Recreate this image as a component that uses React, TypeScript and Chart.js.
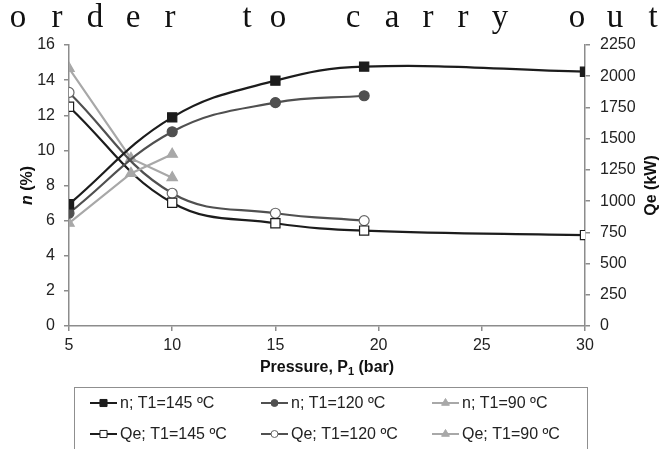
import React, { useEffect, useRef } from 'react';
import { Chart, registerables } from 'chart.js';
import { drawPoint } from 'chart.js/helpers';

Chart.register(...registerables);

// ---- data ----
const pressure145 = [5, 10, 15, 19.3, 30];
const pressure120 = [5, 10, 15, 19.3];
const pressure90 = [5, 8, 10];
const n145 = [6.93, 11.88, 13.97, 14.77, 14.48];
const n120 = [6.42, 11.06, 12.72, 13.11];
const n90 = [5.85, 8.69, 9.78];
const qe145 = [1756, 987, 823, 764, 728];
const qe120 = [1870, 1063, 903, 844];
const qe90 = [2063, 1342, 1188];
const seriesLabels = [
  'n; T1=145 ºC',
  'n; T1=120 ºC',
  'n; T1=90 ºC',
  'Qe; T1=145 ºC',
  'Qe; T1=120 ºC',
  'Qe; T1=90 ºC',
];
const headerWords = ['order', 'to', 'carry', 'out'];

const zip = (xs: number[], ys: number[]) => xs.map((x, i) => ({ x, y: ys[i] }));

const FONT = '"Liberation Sans", Arial, Helvetica, sans-serif';
const BLACK = '#1c1c1c';
const MID = '#505050';
const LIGHT = '#a8a8a8';
const AXIS = '#8c8c8c';

const overlayPlugin = {
  id: 'overlay',
  afterDraw(chart: any) {
    const ctx = chart.ctx as CanvasRenderingContext2D;
    const area = chart.chartArea;
    ctx.save();
    // legend box
    ctx.strokeStyle = '#8f8f8f';
    ctx.lineWidth = 1;
    ctx.strokeRect(74.5, 387.5, 513, 80);
    const cols = [90, 261, 432];
    const rows = [403, 434];
    chart.data.datasets.forEach((ds: any, i: number) => {
      const x = cols[i % 3];
      const y = rows[Math.floor(i / 3)];
      ctx.strokeStyle = ds.borderColor;
      ctx.lineWidth = 2;
      ctx.beginPath();
      ctx.moveTo(x, y);
      ctx.lineTo(x + 27, y);
      ctx.stroke();
      ctx.fillStyle = ds.pointBackgroundColor;
      ctx.strokeStyle = ds.pointBorderColor;
      ctx.lineWidth = 1;
      drawPoint(ctx, { pointStyle: ds.pointStyle, radius: ds.legendRadius, rotation: 0, borderWidth: 1 } as any, x + 13.5, y);
      ctx.fillStyle = '#222';
      ctx.font = `16px ${FONT}`;
      ctx.textBaseline = 'middle';
      ctx.textAlign = 'left';
      ctx.fillText(ds.label, x + 30, y + 1);
    });

    // axis titles
    ctx.fillStyle = '#111';
    ctx.textBaseline = 'middle';
    const midY = (area.top + area.bottom) / 2;
    // left: "n (%)"
    ctx.save();
    ctx.translate(28, midY);
    ctx.rotate(-Math.PI / 2);
    ctx.font = `italic bold 16px ${FONT}`;
    const wN = ctx.measureText('n').width;
    ctx.font = `bold 16px ${FONT}`;
    const wRest = ctx.measureText(' (%)').width;
    const sx = -(wN + wRest) / 2;
    ctx.textAlign = 'left';
    ctx.font = `italic bold 16px ${FONT}`;
    ctx.fillText('n', sx, 0);
    ctx.font = `bold 16px ${FONT}`;
    ctx.fillText(' (%)', sx + wN, 0);
    ctx.restore();
    // right: "Qe (kW)"
    ctx.save();
    ctx.translate(652, midY);
    ctx.rotate(-Math.PI / 2);
    ctx.font = `bold 16px ${FONT}`;
    ctx.textAlign = 'center';
    ctx.fillText('Qe (kW)', 0, 0);
    ctx.restore();
    // bottom: "Pressure, P1 (bar)"
    ctx.save();
    const cx = (area.left + area.right) / 2;
    ctx.font = `bold 16px ${FONT}`;
    const a = 'Pressure, P';
    const c = ' (bar)';
    const wa = ctx.measureText(a).width;
    const wc = ctx.measureText(c).width;
    ctx.font = `bold 11px ${FONT}`;
    const wb = ctx.measureText('1').width;
    const tx = cx - (wa + wb + wc) / 2;
    const ty = 368;
    ctx.textAlign = 'left';
    ctx.font = `bold 16px ${FONT}`;
    ctx.fillText(a, tx, ty);
    ctx.font = `bold 11px ${FONT}`;
    ctx.fillText('1', tx + wa, ty + 4);
    ctx.font = `bold 16px ${FONT}`;
    ctx.fillText(c, tx + wa + wb, ty);
    ctx.restore();
    ctx.restore();
  },
};

export default function App() {
  const ref = useRef<HTMLCanvasElement | null>(null);

  useEffect(() => {
    document.body.style.margin = '0';
    const canvas = ref.current;
    if (!canvas) return;
    const tickFont = { family: FONT, size: 16 };
    const plain = (v: any) => String(v);
    const chart = new Chart(canvas, {
      type: 'line',
      data: {
        datasets: [
          {
            label: seriesLabels[0], data: zip(pressure145, n145), yAxisID: 'y',
            borderColor: BLACK, pointBackgroundColor: BLACK, pointBorderColor: BLACK,
            pointStyle: 'rect', pointRadius: 6.5, tension: 0.4, legendRadius: 5,
          },
          {
            label: seriesLabels[1], data: zip(pressure120, n120), yAxisID: 'y',
            borderColor: MID, pointBackgroundColor: MID, pointBorderColor: MID,
            pointStyle: 'circle', pointRadius: 5, tension: 0.4, legendRadius: 3.5,
          },
          {
            label: seriesLabels[2], data: zip(pressure90, n90), yAxisID: 'y',
            borderColor: LIGHT, pointBackgroundColor: LIGHT, pointBorderColor: LIGHT,
            pointStyle: 'triangle', pointRadius: 6, tension: 0, legendRadius: 4.5,
          },
          {
            label: seriesLabels[3], data: zip(pressure145, qe145), yAxisID: 'y1',
            borderColor: BLACK, pointBackgroundColor: '#ffffff', pointBorderColor: BLACK,
            pointStyle: 'rect', pointRadius: 6.5, tension: 0.4, legendRadius: 5,
          },
          {
            label: seriesLabels[4], data: zip(pressure120, qe120), yAxisID: 'y1',
            borderColor: MID, pointBackgroundColor: '#ffffff', pointBorderColor: '#666666',
            pointStyle: 'circle', pointRadius: 5, tension: 0.4, legendRadius: 3.5,
          },
          {
            label: seriesLabels[5], data: zip(pressure90, qe90), yAxisID: 'y1',
            borderColor: LIGHT, pointBackgroundColor: LIGHT, pointBorderColor: LIGHT,
            pointStyle: 'triangle', pointRadius: 6, tension: 0, legendRadius: 4.5,
          },
        ] as any,
      },
      options: {
        responsive: false,
        animation: false,
        devicePixelRatio: 1,
        layout: { padding: { top: 45, left: 0, right: 0, bottom: 0 } },
        elements: {
          line: { borderWidth: 2.2 },
          point: { borderWidth: 1.2 },
        },
        plugins: { legend: { display: false }, tooltip: { enabled: false }, title: { display: false } },
        scales: {
          x: {
            type: 'linear', min: 5, max: 30,
            ticks: { stepSize: 5, font: tickFont, color: '#222', padding: 5, maxRotation: 0, autoSkip: false, callback: plain },
            grid: { drawOnChartArea: false, color: AXIS, tickLength: 5, lineWidth: 1.5 },
            border: { color: AXIS, width: 1.5 },
            afterFit: (s: any) => { s.height = 123; },
          },
          y: {
            type: 'linear', position: 'left', min: 0, max: 16,
            ticks: { stepSize: 2, font: tickFont, color: '#222', padding: 9, callback: plain },
            grid: { drawOnChartArea: false, color: AXIS, tickLength: 5, lineWidth: 1.5 },
            border: { color: AXIS, width: 1.5 },
            afterFit: (s: any) => { s.width = 69; },
          },
          y1: {
            type: 'linear', position: 'right', min: 0, max: 2250,
            ticks: { stepSize: 250, font: tickFont, color: '#222', padding: 10, callback: plain },
            grid: { drawOnChartArea: false, color: AXIS, tickLength: 5, lineWidth: 1.5 },
            border: { color: AXIS, width: 1.5 },
            afterFit: (s: any) => { s.width = 86; },
          },
        },
      } as any,
      plugins: [overlayPlugin],
    });
    return () => chart.destroy();
  }, []);

  // header line: letters spread out as in the source page
  const letterCenters = [
    [18, 57, 95, 133, 170],
    [247, 278],
    [353, 392, 428, 463, 500],
    [577, 615, 653],
  ];

  return (
    <div style={{ position: 'fixed', left: 0, top: 0, width: 671, height: 449, background: '#fff', overflow: 'hidden' }}>
      <canvas ref={ref} width={671} height={449} style={{ position: 'absolute', left: 0, top: 0, width: 671, height: 449 }} />
      {headerWords.map((w, wi) =>
        w.split('').map((ch, ci) => (
          <span
            key={`${wi}-${ci}`}
            style={{
              position: 'absolute',
              top: 0,
              left: letterCenters[wi][ci],
              transform: 'translateX(-50%)',
              fontFamily: '"Liberation Serif", "Times New Roman", serif',
              fontSize: 33,
              lineHeight: '33px',
              color: '#111',
              whiteSpace: 'pre',
            }}
          >
            {ch}
          </span>
        ))
      )}
    </div>
  );
}
